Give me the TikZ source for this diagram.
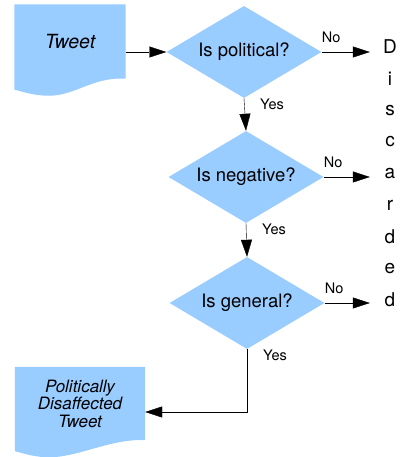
\documentclass[tikz,border=0pt]{standalone}
\usepackage{fontspec}
\setmainfont{TeX Gyre Heros}
\usetikzlibrary{shapes.geometric,arrows.meta,calc,backgrounds}
\definecolor{boxblue}{RGB}{153,204,255}
\tikzset{
  decision/.style={diamond, aspect=1.68, fill=boxblue, inner sep=0pt, minimum width=155pt, minimum height=92pt, font=\fontsize{18.5}{20}\selectfont},
  docu/.style={inner sep=0pt, minimum height=73pt, align=center},
  letter/.style={inner sep=0pt, minimum width=40pt, font=\fontsize{19}{20}\selectfont},
  lbl/.style={inner sep=0pt, font=\fontsize{14.5}{16}\selectfont},
}
% wavy bottom of a document box, behind its text
\newcommand{\docwave}[1]{%
  \begin{pgfonlayer}{background}
  \fill[boxblue] (#1.north west) -- (#1.north east) -- (#1.south east)
    .. controls ($(#1.south east)+(-35,2)$) and ($(#1.south west)+(60,-19)$) .. ($(#1.south west)+(30,-17)$)
    .. controls ($(#1.south west)+(15,-16)$) and ($(#1.south west)+(5,-12)$) .. ($(#1.south west)+(0,-11)$) -- cycle;
  \end{pgfonlayer}}
\begin{document}
\begin{tikzpicture}[x=1pt, y=1pt, >={Triangle[length=17pt,width=11pt]}, line width=1.3pt]
  \useasboundingbox (0,0) rectangle (400,457);
  % documents
  \node[docu, minimum width=110pt, font=\fontsize{19.5}{20}\selectfont\itshape] (tweet) at (70,415.5) {Tweet};
  \docwave{tweet}
  \node[docu, minimum width=130pt, font=\fontsize{17}{17.5}\selectfont\itshape] (disaffected) at (80,53.5) {Politically\\Disaffected\\Tweet};
  \docwave{disaffected}
  % decisions
  \node[decision] (political) at (244,405) {Is political?};
  \node[decision] (negative) at (246,280) {Is negative?};
  \node[decision] (general) at (247,154) {Is general?};
  % discarded, one letter per line
  \foreach \ch [count=\i from 0] in {D,i,s,c,a,r,d,e,d}
    \node[letter] (disc\i) at (390,410-31.6*\i) {\ch};

  \draw[->] (tweet.east |- political.west) -- (political.west);
  \draw[->] (political.south) -- (negative.north)
    node[lbl, pos=0, anchor=north west, xshift=16pt, yshift=-1pt] {Yes};
  \draw[->] (negative.south) -- (general.north)
    node[lbl, pos=0, anchor=north west, xshift=16pt, yshift=-1pt] {Yes};
  \draw[->] (general.south) |- ([yshift=-8.5pt]disaffected.east)
    node[lbl, pos=0, anchor=north west, xshift=16pt, yshift=-1pt] {Yes};
  \draw[->] (political.east) -- (political.east -| disc0.west)
    node[lbl, pos=0, anchor=south west, yshift=9pt] {No};
  \draw[->] (negative.east) -- (negative.east -| disc4.west)
    node[lbl, pos=0, anchor=south west, yshift=9pt] {No};
  \draw[->] (general.east) -- (general.east -| disc8.west)
    node[lbl, pos=0, anchor=south west, yshift=9pt] {No};
\end{tikzpicture}
\end{document}
